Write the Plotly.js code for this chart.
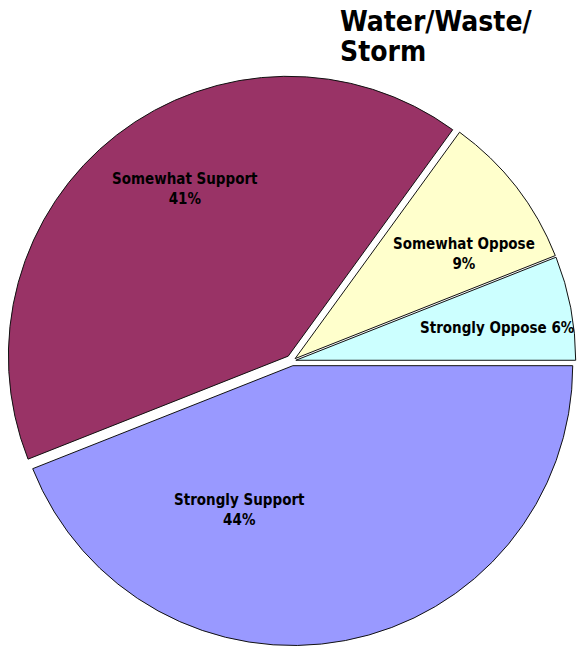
<!DOCTYPE html>
<html>
<head>
<meta charset="utf-8">
<script src="https://cdn.plot.ly/plotly-3.0.1.min.js"></script>
<style>html,body{margin:0;padding:0;background:#fff;}#chart{width:578px;height:649px;}</style>
</head>
<body>
<div id="chart"></div>
<script>
// ---- data ----
var categories = ['Strongly Support', 'Somewhat Support', 'Somewhat Oppose', 'Strongly Oppose'];
var values = [44, 41, 9, 6];
var titleLines = ['Water/Waste/', 'Storm'];

// ---- styling / layout (not data) ----
var colors = ['#9999FF', '#993366', '#FFFFCC', '#CCFFFF'];
var pulls = [0.017, 0.022, 0.014, 0.014];
var labelBreaks = ['<br>', '<br>', '<br>', ' '];
var labelPosPx = [[239, 510], [185, 189], [464, 254], [497, 328]];
var titleTopPx = [3, 33];
var W = 578, H = 649;
var fontFam = '"DejaVu Sans Condensed", "DejaVu Sans", Verdana, sans-serif';

var trace = {
  type: 'pie',
  labels: categories,
  values: values,
  sort: false,
  direction: 'clockwise',
  rotation: 90,
  pull: pulls,
  marker: { colors: colors, line: { color: '#111111', width: 1 } },
  textinfo: 'none',
  hoverinfo: 'label+percent',
  showlegend: false,
  domain: { x: [6 / W, 1], y: [(H - 647) / H, (H - 75) / H] }
};

var annotations = categories.map(function (c, i) {
  return {
    text: '<b>' + c + labelBreaks[i] + values[i] + '%</b>',
    x: labelPosPx[i][0] / W, y: 1 - labelPosPx[i][1] / H,
    xref: 'paper', yref: 'paper', xanchor: 'center', yanchor: 'middle',
    showarrow: false, align: 'center',
    font: { family: fontFam, size: 15, color: '#000' }
  };
});
titleLines.forEach(function (t, i) {
  annotations.push({
    text: '<b>' + t + '</b>',
    x: 338 / W, y: 1 - titleTopPx[i] / H, xref: 'paper', yref: 'paper',
    xanchor: 'left', yanchor: 'top',
    showarrow: false, align: 'left',
    font: { family: fontFam, size: 28, color: '#000' }
  });
});

var layout = {
  width: W, height: H,
  margin: { l: 0, r: 0, t: 0, b: 0 },
  paper_bgcolor: '#fff',
  showlegend: false,
  annotations: annotations
};

Plotly.newPlot('chart', [trace], layout, { displayModeBar: false, staticPlot: true });
</script>
</body>
</html>
